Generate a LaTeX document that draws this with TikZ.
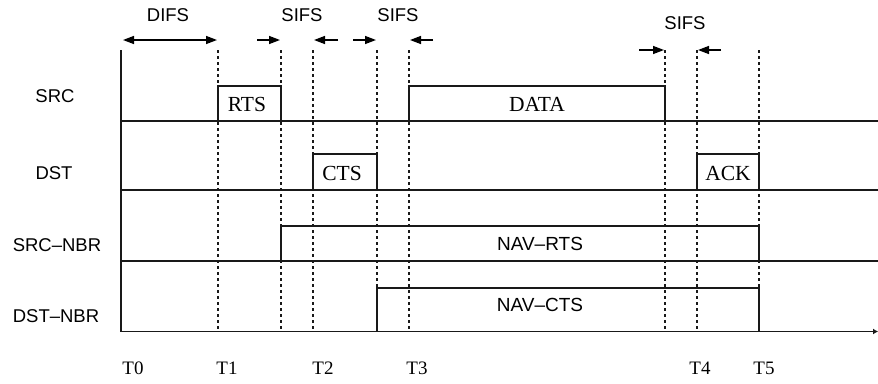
\documentclass[tikz,border=0pt]{standalone}
\usepackage{fontspec}
\setmainfont{Liberation Serif}
\newfontfamily\sansf{Liberation Sans}
\usetikzlibrary{arrows.meta}
\begin{document}
\begin{tikzpicture}[x=1pt,y=-1pt,
  solid line/.style={line width=1.6pt,black!90},
  guide/.style={line width=1.3pt,dash pattern=on 3pt off 3pt,black!90},
  span arrow/.style={line width=1.4pt,-{Stealth[length=11pt,width=8pt,inset=0pt]}},
  rowlabel/.style={font=\sansf\fontsize{18.5}{20}\selectfont,inner sep=0pt},
  gaplabel/.style={font=\sansf\fontsize{18.5}{20}\selectfont,inner sep=0pt},
  framelabel/.style={font=\fontsize{21.5}{24}\selectfont,inner sep=0pt},
  navlabel/.style={font=\sansf\fontsize{19}{20}\selectfont,inner sep=0pt},
  timelabel/.style={font=\fontsize{19}{20}\selectfont,inner sep=0pt}]
\useasboundingbox (0,0) rectangle (878,383);
% time positions (top of guides)
\coordinate (a0) at (121,50);
\coordinate (a1) at (218,50);
\coordinate (a2) at (281,50);
\coordinate (a3) at (313,50);
\coordinate (a4) at (377,50);
\coordinate (a5) at (409,50);
\coordinate (a6) at (665,50);
\coordinate (a7) at (697,50);
\coordinate (a8) at (759,50);
% bottom ends of guides
\coordinate (b0) at (121,331.5);
\coordinate (b1) at (218,331.5);
\coordinate (b2) at (281,331.5);
\coordinate (b3) at (313,331.5);
\coordinate (b4) at (377,331.5);
\coordinate (b5) at (409,331.5);
\coordinate (b6) at (665,331.5);
\coordinate (b7) at (697,331.5);
\coordinate (b8) at (759,331.5);
\coordinate (bend) at (878,331.5);
% row base lines
\coordinate (s0) at (121,121);  \coordinate (s1) at (878,121);
\coordinate (d0) at (121,190);  \coordinate (d1) at (878,190);
\coordinate (n0) at (121,261);  \coordinate (n1) at (878,261);

% guides
\foreach \i in {1,...,8} \draw[guide] (a\i) -- (b\i);

% axes and base lines
\draw[solid line] (a0) -- (b0);
\draw[solid line,-{Latex[length=5pt,width=6pt]}] (b0) -- (bend);
\draw[solid line] (s0) -- (s1);
\draw[solid line] (d0) -- (d1);
\draw[solid line] (n0) -- (n1);

% frames
\draw[solid line] (218,121) -- (218,86) -- (281,86) -- (281,121);
\draw[solid line] (409,121) -- (409,86) -- (665,86) -- (665,121);
\draw[solid line] (313,190) -- (313,154) -- (377,154) -- (377,190);
\draw[solid line] (697,190) -- (697,154) -- (759,154) -- (759,190);
\draw[solid line] (281,261) -- (281,226) -- (759,226) -- (759,261);
\draw[solid line] (377,331.5) -- (377,288) -- (759,288) -- (759,331.5);

% interval arrows
\coordinate (difsL) at (123,40);
\coordinate (difsR) at (217,40);
\draw[span arrow,{Stealth[length=11pt,width=8pt,inset=0pt]}-{Stealth[length=11pt,width=8pt,inset=0pt]}] (difsL) -- (difsR);
\coordinate (p1) at (257,40); \coordinate (q1) at (280,40);
\coordinate (p2) at (338,40); \coordinate (q2) at (314,40);
\coordinate (p3) at (353,40); \coordinate (q3) at (376,40);
\coordinate (p4) at (433,40); \coordinate (q4) at (410,40);
\coordinate (p5) at (639,50); \coordinate (q5) at (664,50);
\coordinate (p6) at (721,50); \coordinate (q6) at (698,50);
\foreach \i in {1,...,6} \draw[span arrow] (p\i) -- (q\i);

% interval labels
\node[gaplabel] (difs) at (168,15) {DIFS};
\node[gaplabel] (sifs1) at (302,15) {SIFS};
\node[gaplabel] (sifs2) at (398,15) {SIFS};
\node[gaplabel] (sifs3) at (685,23) {SIFS};

% row labels
\node[rowlabel] (src) at (55,96) {SRC};
\node[rowlabel] (dst) at (54,173) {DST};
\node[rowlabel] (srcnbr) at (57,245) {SRC–NBR};
\node[rowlabel] (dstnbr) at (56,316) {DST–NBR};

% frame labels
\node[framelabel] (rts) at (247,104) {RTS};
\node[framelabel] (data) at (537,104) {DATA};
\node[framelabel] (cts) at (342,173) {CTS};
\node[framelabel] (ack) at (728,173) {ACK};
\node[navlabel] (navrts) at (540,244) {NAV–RTS};
\node[navlabel] (navcts) at (540,305) {NAV–CTS};

% time labels
\node[timelabel] (T0) at (133,368) {T0};
\node[timelabel] (T1) at (227,368) {T1};
\node[timelabel] (T2) at (323,368) {T2};
\node[timelabel] (T3) at (417,368) {T3};
\node[timelabel] (T4) at (700,368) {T4};
\node[timelabel] (T5) at (764,368) {T5};
\end{tikzpicture}
\end{document}
